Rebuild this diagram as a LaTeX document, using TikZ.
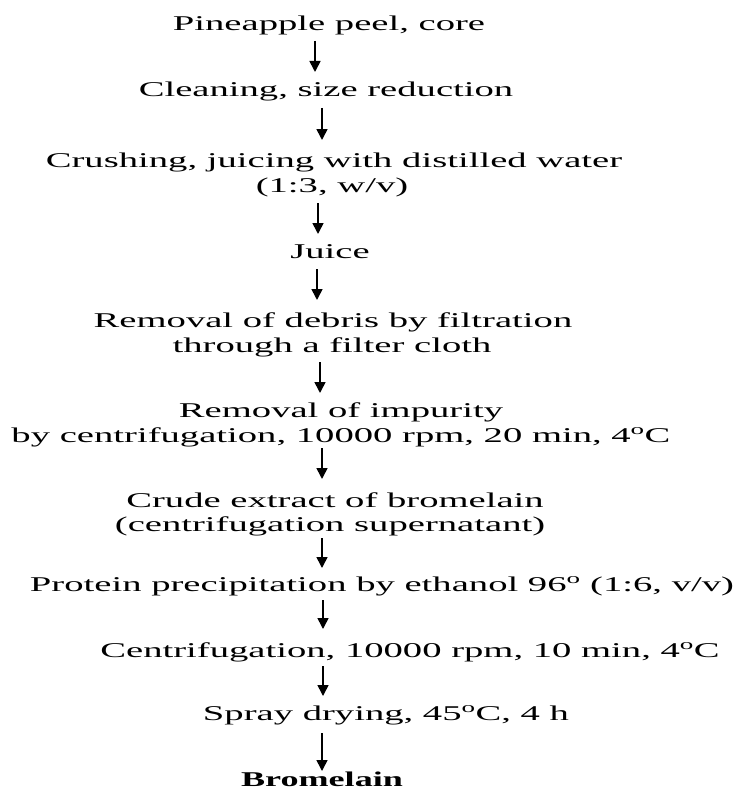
\documentclass[tikz,border=0pt]{standalone}
\usepackage{fontspec}
\setmainfont[FakeStretch=1.84,BoldFeatures={FakeStretch=1.72}]{Liberation Serif}
\usetikzlibrary{arrows.meta}
\begin{document}
\begin{tikzpicture}[x=1pt,y=-1pt,
  lbl/.style={anchor=base,inner sep=0pt,font=\fontsize{21}{24}\selectfont},
  arr/.style={line width=1.6pt,-{Triangle[width=11pt,length=11pt]}}]
\useasboundingbox (0,0) rectangle (738,789);
\node[lbl] (n1) at (329,31) {Pineapple peel, core};
\node[lbl] (n2) at (326,97) {Cleaning, size reduction};
\node[lbl] (n3a) at (334,167) {Crushing, juicing with distilled water};
\node[lbl] (n3b) at (332,192) {(1:3, w/v)};
\node[lbl] (n4) at (330,258) {Juice};
\node[lbl] (n5a) at (333,327) {Removal of debris by filtration};
\node[lbl] (n5b) at (332,352) {through a filter cloth};
\node[lbl] (n6a) at (341,417) {Removal of impurity};
\node[lbl] (n6b) at (341,442) {by centrifugation, 10000 rpm, 20 min, 4\textsuperscript{o}C};
\node[lbl] (n7a) at (335,507) {Crude extract of bromelain};
\node[lbl] (n7b) at (330,531) {(centrifugation supernatant)};
\node[lbl] (n8) at (382,591) {Protein precipitation by ethanol 96\textsuperscript{o} (1:6, v/v)};
\node[lbl] (n9) at (410,657) {Centrifugation, 10000 rpm, 10 min, 4\textsuperscript{o}C};
\node[lbl] (n10) at (386,720) {Spray drying, 45\textsuperscript{o}C, 4 h};
\node[lbl,font=\fontsize{21}{24}\selectfont\bfseries] (n11) at (322,786) {Bromelain};
\coordinate (a1s) at (315,41); \coordinate (a1e) at (315,72);
\coordinate (a2s) at (322,108); \coordinate (a2e) at (322,140);
\coordinate (a3s) at (318,203); \coordinate (a3e) at (318,234);
\coordinate (a4s) at (317,269); \coordinate (a4e) at (317,300);
\coordinate (a5s) at (320,362); \coordinate (a5e) at (320,393);
\coordinate (a6s) at (322,448); \coordinate (a6e) at (322,479);
\coordinate (a7s) at (322,538); \coordinate (a7e) at (322,568);
\coordinate (a8s) at (323,600); \coordinate (a8e) at (323,629);
\coordinate (a9s) at (323,666); \coordinate (a9e) at (323,696);
\coordinate (a10s) at (322,733); \coordinate (a10e) at (322,771);
\foreach \i in {1,...,10} \draw[arr] (a\i s) -- (a\i e);
\end{tikzpicture}
\end{document}
